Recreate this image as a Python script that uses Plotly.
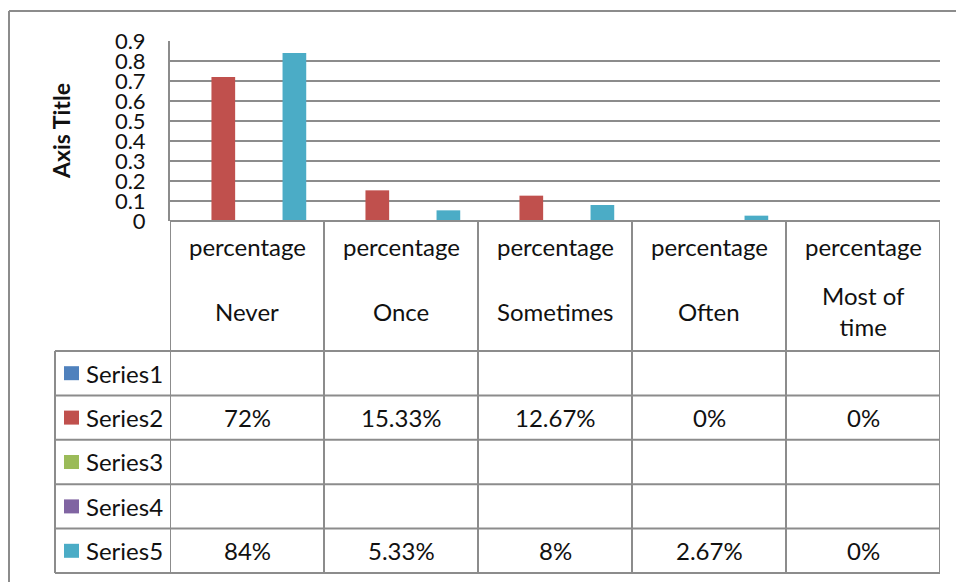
import plotly.graph_objects as go

categories = ["Never", "Once", "Sometimes", "Often", "Most of<br>time"]
header_label = "percentage"
series_names = ["Series1", "Series2", "Series3", "Series4", "Series5"]
series_values = [
    [None, None, None, None, None],
    [0.72, 0.1533, 0.1267, 0, 0],
    [None, None, None, None, None],
    [None, None, None, None, None],
    [0.84, 0.0533, 0.08, 0.0267, 0],
]
series_colors = ["#4F81BD", "#C0504D", "#9BBB59", "#8064A2", "#4BACC6"]
y_ticks = [0, 0.1, 0.2, 0.3, 0.4, 0.5, 0.6, 0.7, 0.8, 0.9]
y_axis_title = "Axis Title"

W, H = 956, 582
L, R, T, B = 170, 940, 41, 221  # plot area pixels
FONT = "Lato"
GRID = "#8C8C8C"
TXT = "#111111"
TS = 24  # table text size

def py(y):  # pixel y -> paper y
    return (B - y) / (B - T)

def px(x):
    return (x - L) / (R - L)

def fmt(v):
    if v is None:
        return ""
    return f"{round(v * 100, 2):g}%"

xs = list(range(len(categories)))
fig = go.Figure()
for name, vals, col in zip(series_names, series_values, series_colors):
    fig.add_trace(go.Bar(x=xs, y=vals, name=name, marker=dict(color=col, line=dict(width=0))))

shapes = []
annots = []
line = dict(color=GRID, width=2)
header_bottom = 351
table_bottom = 573
row_h = (table_bottom - header_bottom) / 5
legend_left = 55

shapes.append(dict(type="line", xref="paper", yref="paper", x0=px(L), x1=px(R), y0=py(B), y1=py(B), line=line))
for k in range(6):
    yy = header_bottom + k * row_h
    shapes.append(dict(type="line", xref="paper", yref="paper", x0=px(legend_left), x1=px(R), y0=py(yy), y1=py(yy), line=line))
for i in range(len(categories) + 1):
    shapes.append(dict(type="line", xref="x", yref="paper", x0=i - 0.5, x1=i - 0.5, y0=py(B), y1=py(table_bottom), line=line))
shapes.append(dict(type="line", xref="paper", yref="paper", x0=px(legend_left), x1=px(legend_left), y0=py(header_bottom), y1=py(table_bottom), line=line))
# outer chart border
shapes.append(dict(type="line", xref="paper", yref="paper", x0=px(9), x1=px(W + 5), y0=py(11), y1=py(11), line=dict(color=GRID, width=2)))
shapes.append(dict(type="line", xref="paper", yref="paper", x0=px(9), x1=px(9), y0=py(11), y1=py(H + 5), line=dict(color=GRID, width=2)))

for i, c in enumerate(categories):
    annots.append(dict(xref="x", yref="paper", x=i, y=py(246), text=header_label, showarrow=False,
                       font=dict(family=FONT, size=TS, color=TXT), xanchor="center", yanchor="middle"))
    annots.append(dict(xref="x", yref="paper", x=i, y=py(311), text=c, showarrow=False,
                       font=dict(family=FONT, size=TS, color=TXT), xanchor="center", yanchor="middle"))
for k, (name, vals, col) in enumerate(zip(series_names, series_values, series_colors)):
    yc = header_bottom + (k + 0.5) * row_h
    shapes.append(dict(type="rect", xref="paper", yref="paper", x0=px(64), x1=px(79), y0=py(yc - 7), y1=py(yc + 7),
                       fillcolor=col, line=dict(width=0)))
    annots.append(dict(xref="paper", yref="paper", x=px(84), y=py(yc), text=name, showarrow=False,
                       font=dict(family=FONT, size=TS, color=TXT), xanchor="left", yanchor="middle"))
    for i, v in enumerate(vals):
        t = fmt(v)
        if t:
            annots.append(dict(xref="x", yref="paper", x=i, y=py(yc), text=t, showarrow=False,
                               font=dict(family=FONT, size=TS, color=TXT), xanchor="center", yanchor="middle"))
annots.append(dict(xref="paper", yref="paper", x=px(61), y=py(131), text=f"<b>{y_axis_title}</b>", textangle=-90,
                   showarrow=False, font=dict(family=FONT, size=23, color=TXT), xanchor="center", yanchor="middle"))

fig.update_layout(
    width=W, height=H,
    margin=dict(l=L, r=W - R, t=T, b=H - B, pad=0),
    paper_bgcolor="white", plot_bgcolor="white",
    barmode="group", bargap=1.5 / 6.5, bargroupgap=0,
    showlegend=False,
    shapes=shapes, annotations=annots,
    font=dict(family=FONT, color=TXT),
    xaxis=dict(range=[-0.5, len(categories) - 0.5], showticklabels=False, showgrid=False, zeroline=False,
               showline=False, ticks=""),
    yaxis=dict(range=[0, 0.9], tickvals=y_ticks, ticktext=[f"{v:g}" for v in y_ticks], showgrid=True,
               gridcolor=GRID, gridwidth=2, zeroline=False, showline=True, linecolor=GRID, linewidth=2,
               ticks="", tickfont=dict(family=FONT, size=22, color=TXT), ticklabelstandoff=18),
)
fig.write_html("out.html", config={"displayModeBar": False},
               post_script="document.body.style.margin='0px';")
